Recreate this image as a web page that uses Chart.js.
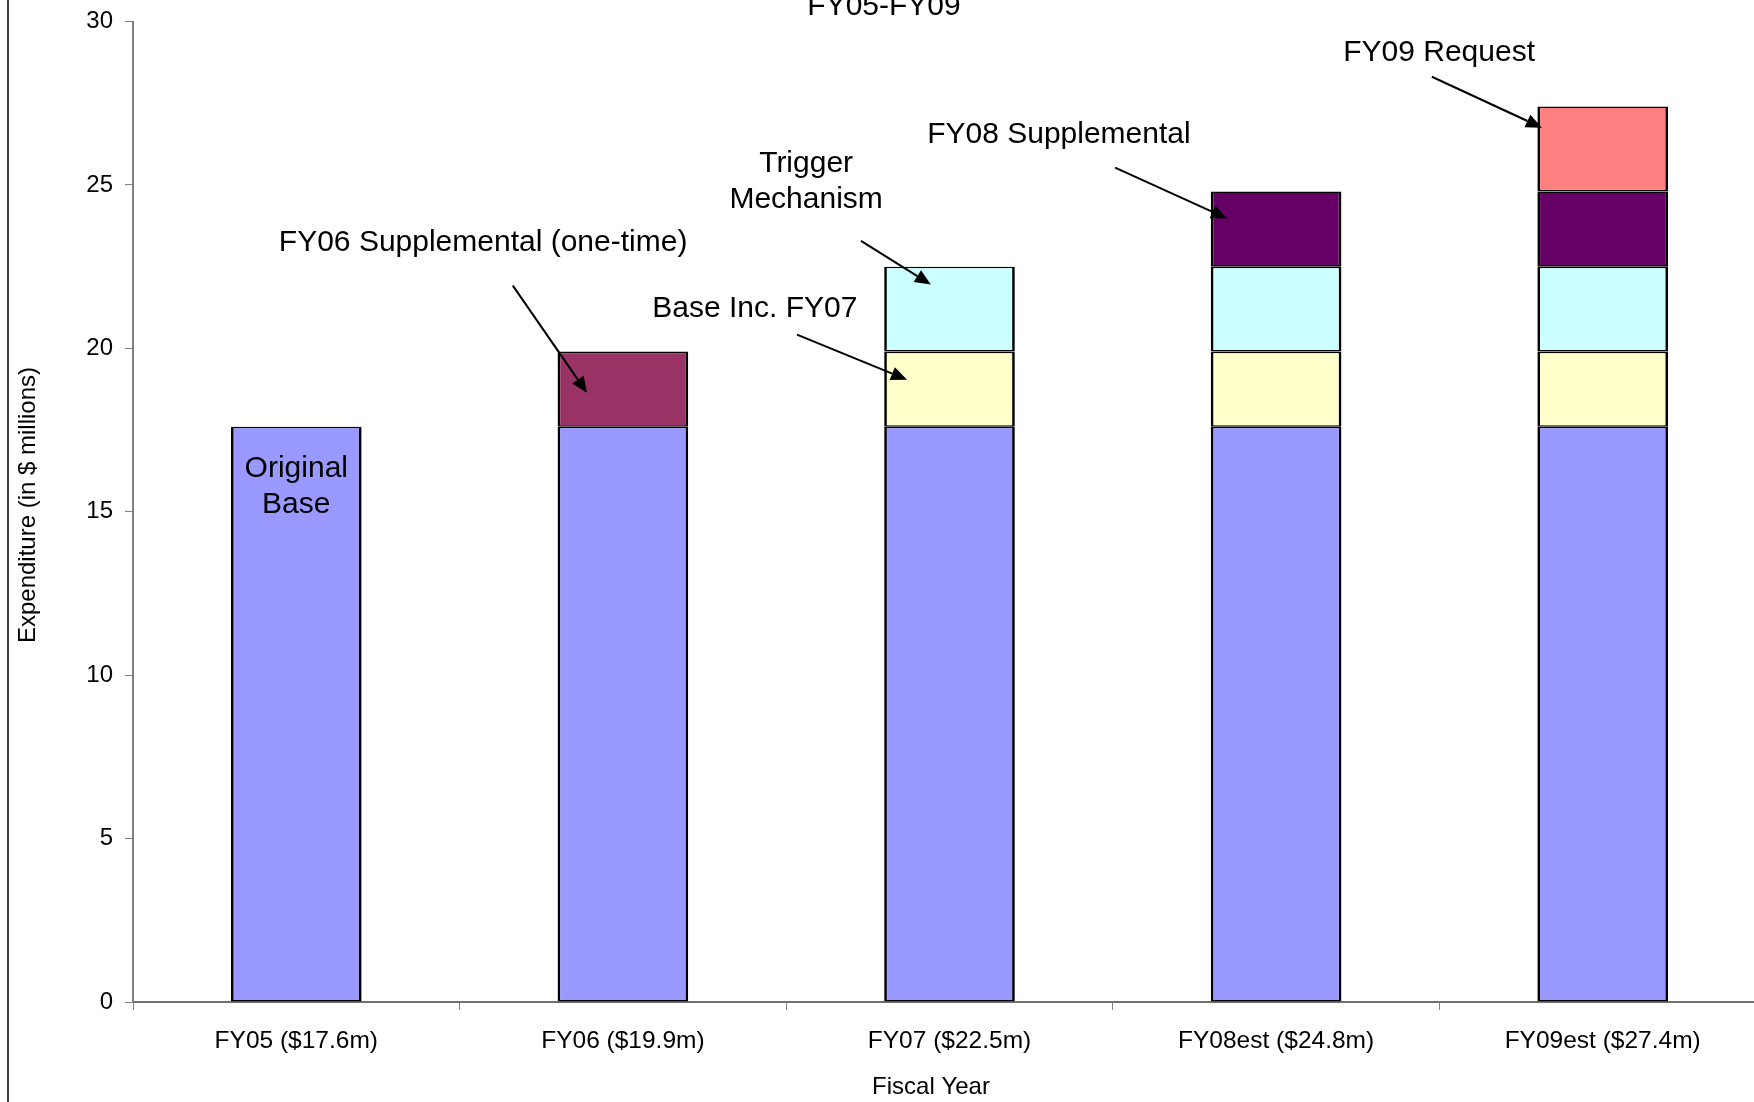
<!DOCTYPE html>
<html>
<head>
<meta charset="utf-8">
<script src="https://cdn.jsdelivr.net/npm/chart.js@4.4.0/dist/chart.umd.min.js"></script>
<style>
  html, body { margin: 0; padding: 0; background: #fff; overflow: hidden; }
  #wrap { width: 1754px; height: 1102px; overflow: hidden; }
  canvas { display: block; }
</style>
</head>
<body>
<div id="wrap"><canvas id="myChart" width="1770" height="1102"></canvas></div>
<script>
var years = ["FY05 ($17.6m)", "FY06 ($19.9m)", "FY07 ($22.5m)", "FY08est ($24.8m)", "FY09est ($27.4m)"];
var originalBase = [17.6, 17.6, 17.6, 17.6, 17.6];
var fy06Supplemental = [null, 2.3, null, null, null];
var baseIncFy07 = [null, null, 2.3, 2.3, 2.3];
var triggerMechanism = [null, null, 2.6, 2.6, 2.6];
var fy08Supplemental = [null, null, null, 2.3, 2.3];
var fy09Request = [null, null, null, null, 2.6];
var yTicks = [0, 5, 10, 15, 20, 25, 30];

// callouts, placed in chart units: [category index, value]
var notes = [
  {lines: ["Original", "Base"], at: [0, 16.07]},
  {lines: ["FY06 Supplemental (one-time)"], at: [0.572, 22.99], from: [0.663, 21.92], to: [0.890, 18.64]},
  {lines: ["Base Inc. FY07"], at: [1.404, 20.97], from: [1.533, 20.42], to: [1.870, 19.04]},
  {lines: ["Trigger", "Mechanism"], at: [1.561, 25.41], from: [1.729, 23.29], to: [1.943, 21.95]},
  {lines: ["FY08 Supplemental"], at: [2.335, 26.29], from: [2.507, 25.53], to: [2.850, 23.97]},
  {lines: ["FY09 Request"], at: [3.499, 28.80], from: [3.477, 28.31], to: [3.814, 26.75]}
];

var FONT = '"Liberation Sans", Arial, sans-serif';

function drawArrow(ctx, x1, y1, x2, y2){
  var ang = Math.atan2(y2 - y1, x2 - x1);
  var len = 16, half = 7;
  var bx = x2 - len * Math.cos(ang), by = y2 - len * Math.sin(ang);
  ctx.beginPath();
  ctx.moveTo(x1, y1);
  ctx.lineTo(bx, by);
  ctx.stroke();
  ctx.beginPath();
  ctx.moveTo(x2, y2);
  ctx.lineTo(bx + half * Math.sin(ang), by - half * Math.cos(ang));
  ctx.lineTo(bx - half * Math.sin(ang), by + half * Math.cos(ang));
  ctx.closePath();
  ctx.fill();
}

var notesPlugin = {
  id: 'notes',
  afterDraw: function(chart){
    var ctx = chart.ctx, x = chart.scales.x, y = chart.scales.y;
    var band = (x.right - x.left) / years.length;
    function px(i){ return x.left + (i + 0.5) * band; }
    ctx.save();
    // chart frame, only its left side is in view
    ctx.strokeStyle = '#000';
    ctx.lineWidth = 1.5;
    ctx.beginPath();
    ctx.moveTo(8, 0);
    ctx.lineTo(8, chart.height);
    ctx.stroke();

    ctx.fillStyle = '#000';
    ctx.textAlign = 'center';
    ctx.textBaseline = 'alphabetic';
    ctx.font = '30px ' + FONT;
    ctx.fillText('FY05-FY09', 884, 15);

    ctx.lineWidth = 2;
    notes.forEach(function(n){
      var cx = px(n.at[0]), cy = y.getPixelForValue(n.at[1]);
      n.lines.forEach(function(t, k){ ctx.fillText(t, cx, cy + k * 36); });
      if (n.from) {
        drawArrow(ctx, px(n.from[0]), y.getPixelForValue(n.from[1]),
                       px(n.to[0]), y.getPixelForValue(n.to[1]));
      }
    });

    ctx.font = '24px ' + FONT;
    ctx.textBaseline = 'middle';
    ctx.fillText('Fiscal Year', 931, 1087);
    ctx.translate(28, 505);
    ctx.rotate(-Math.PI / 2);
    ctx.fillText('Expenditure (in $ millions)', 0, 0);
    ctx.restore();
  }
};

function bars(label, data, color){
  return {
    label: label,
    data: data,
    backgroundColor: color,
    borderColor: '#000',
    borderWidth: {left: 2.7, right: 2.7, top: 1.6, bottom: 1.6},
    borderSkipped: false,
    barPercentage: 0.4,
    categoryPercentage: 1.0
  };
}

var ctx = document.getElementById('myChart').getContext('2d');
var chart = new Chart(ctx, {
  type: 'bar',
  data: {
    labels: years,
    datasets: [
      bars("Original Base", originalBase, '#9999FF'),
      bars("FY06 Supplemental (one-time)", fy06Supplemental, '#993366'),
      bars("Base Inc. FY07", baseIncFy07, '#FFFFCC'),
      bars("Trigger Mechanism", triggerMechanism, '#CCFFFF'),
      bars("FY08 Supplemental", fy08Supplemental, '#660066'),
      bars("FY09 Request", fy09Request, '#FF8080')
    ]
  },
  options: {
    responsive: false,
    animation: false,
    layout: {padding: {top: 21.5, right: 4, left: 0, bottom: 0}},
    plugins: {legend: {display: false}, tooltip: {enabled: false}},
    scales: {
      x: {
        stacked: true,
        grid: {offset: true, drawOnChartArea: false, tickLength: 8, color: '#808080'},
        border: {color: '#707070', width: 2},
        ticks: {color: '#000', font: {family: FONT, size: 24.5}, padding: 17, maxRotation: 0},
        afterFit: function(s){ s.height = 100; s.paddingLeft = 0; s.paddingRight = 0; }
      },
      y: {
        stacked: true,
        min: 0,
        max: 30,
        grid: {drawOnChartArea: false, tickLength: 8, color: '#808080'},
        border: {color: '#808080', width: 2},
        ticks: {color: '#000', font: {family: FONT, size: 24}, padding: 12},
        afterBuildTicks: function(s){ s.ticks = yTicks.map(function(v){ return {value: v}; }); },
        afterFit: function(s){ s.width = 133; s.paddingTop = 0; s.paddingBottom = 0; }
      }
    }
  },
  plugins: [notesPlugin]
});
</script>
</body>
</html>
